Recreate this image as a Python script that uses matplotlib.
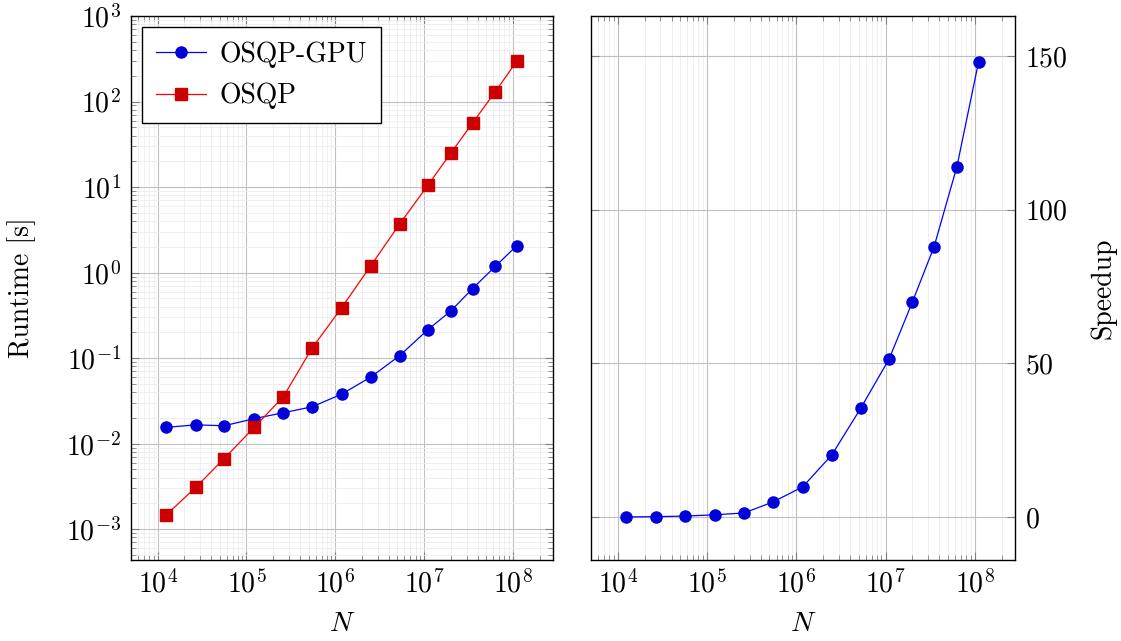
import matplotlib
matplotlib.use("Agg")
import matplotlib.pyplot as plt
from matplotlib.ticker import LogLocator, NullFormatter, MultipleLocator

plt.rcParams['font.family'] = 'serif'
plt.rcParams['font.serif'] = ['cmr10']
plt.rcParams['mathtext.fontset'] = 'cm'
plt.rcParams['axes.formatter.use_mathtext'] = True
plt.rcParams['font.size'] = 20

# problem sizes and timings
N = [1.23e4, 2.7e4, 5.6e4, 1.22e5, 2.6e5, 5.5e5, 1.18e6, 2.5e6,
     5.3e6, 1.1e7, 2.0e7, 3.5e7, 6.3e7, 1.1e8]
t_gpu = [0.0155, 0.0166, 0.0162, 0.0196, 0.023, 0.027, 0.038, 0.060,
         0.107, 0.215, 0.357, 0.65, 1.18, 2.06]
t_cpu = [0.00145, 0.0031, 0.0067, 0.0155, 0.0354, 0.132, 0.39, 1.2,
         3.7, 10.5, 25, 56, 130, 295]
speedup = [0.0, 0.1, 0.3, 0.7, 1.3, 4.9, 9.8, 20.2, 35.5, 51.5, 70, 88, 114, 148]

fig = plt.figure(figsize=(11.21, 6.41), dpi=100)
ax1 = fig.add_axes([131/1121, 1-560/641, 422/1121, 544/641])
ax2 = fig.add_axes([591/1121, 1-560/641, 424/1121, 544/641])

blue_kw = dict(color='#0000ff', lw=0.9, marker='o', ms=8,
               mfc='#0000d8', mec='#0000d8')
red_kw = dict(color='#ff0000', lw=0.9, marker='s', ms=8,
              mfc='#cc0000', mec='#cc0000')

ax1.loglog(N, t_gpu, label='OSQP-GPU', **blue_kw)
ax1.loglog(N, t_cpu, label='OSQP', **red_kw)
ax1.set_xlim(10**3.7, 10**8.45)
ax1.set_ylim(10**-3.36, 1e3)
ax1.set_ylabel('Runtime [s]', labelpad=22)
ax1.set_xlabel('$N$', labelpad=9)
ax1.xaxis.set_major_locator(LogLocator(base=10, numticks=20))
ax1.xaxis.set_minor_locator(LogLocator(base=10, subs=range(2, 10), numticks=50))
ax1.yaxis.set_major_locator(LogLocator(base=10, numticks=20))
ax1.yaxis.set_minor_locator(LogLocator(base=10, subs=range(2, 10), numticks=50))
ax1.xaxis.set_minor_formatter(NullFormatter())
ax1.yaxis.set_minor_formatter(NullFormatter())
ax1.grid(True, which='major', color='#c0c0c0', lw=0.8)
ax1.grid(True, which='minor', color='#ececec', lw=0.6)
ax1.legend(loc='upper left', fancybox=False, edgecolor='black',
           framealpha=1, borderpad=0.5, handlelength=1.8, labelspacing=0.55,
           borderaxespad=0.4, handletextpad=0.5, fontsize=20)
ax1.tick_params(which='both', direction='in', top=True, right=True, color='#808080')
ax1.tick_params(which='major', length=6, pad=7)
ax1.tick_params(which='minor', length=3.5)

ax2.semilogx(N, speedup, **blue_kw)
ax2.set_xlim(10**3.7, 10**8.45)
ax2.set_ylim(-14, 163)
ax2.set_xlabel('$N$', labelpad=9)
ax2.set_ylabel('Speedup', labelpad=16)
ax2.yaxis.set_label_position('right')
ax2.yaxis.tick_right()
ax2.yaxis.set_major_locator(MultipleLocator(50))
ax2.xaxis.set_major_locator(LogLocator(base=10, numticks=20))
ax2.xaxis.set_minor_locator(LogLocator(base=10, subs=range(2, 10), numticks=50))
ax2.xaxis.set_minor_formatter(NullFormatter())
ax2.grid(True, which='major', color='#c0c0c0', lw=0.8)
ax2.grid(True, which='minor', axis='x', color='#ececec', lw=0.6)
ax2.tick_params(which='both', direction='in', top=True, left=True, right=True,
                color='#808080')
ax2.tick_params(which='major', length=6, pad=7)
ax2.tick_params(which='minor', length=3.5)

for ax in (ax1, ax2):
    ax.set_axisbelow(True)
    for s in ax.spines.values():
        s.set_linewidth(1.0)

fig.savefig('out.png', dpi=100)
